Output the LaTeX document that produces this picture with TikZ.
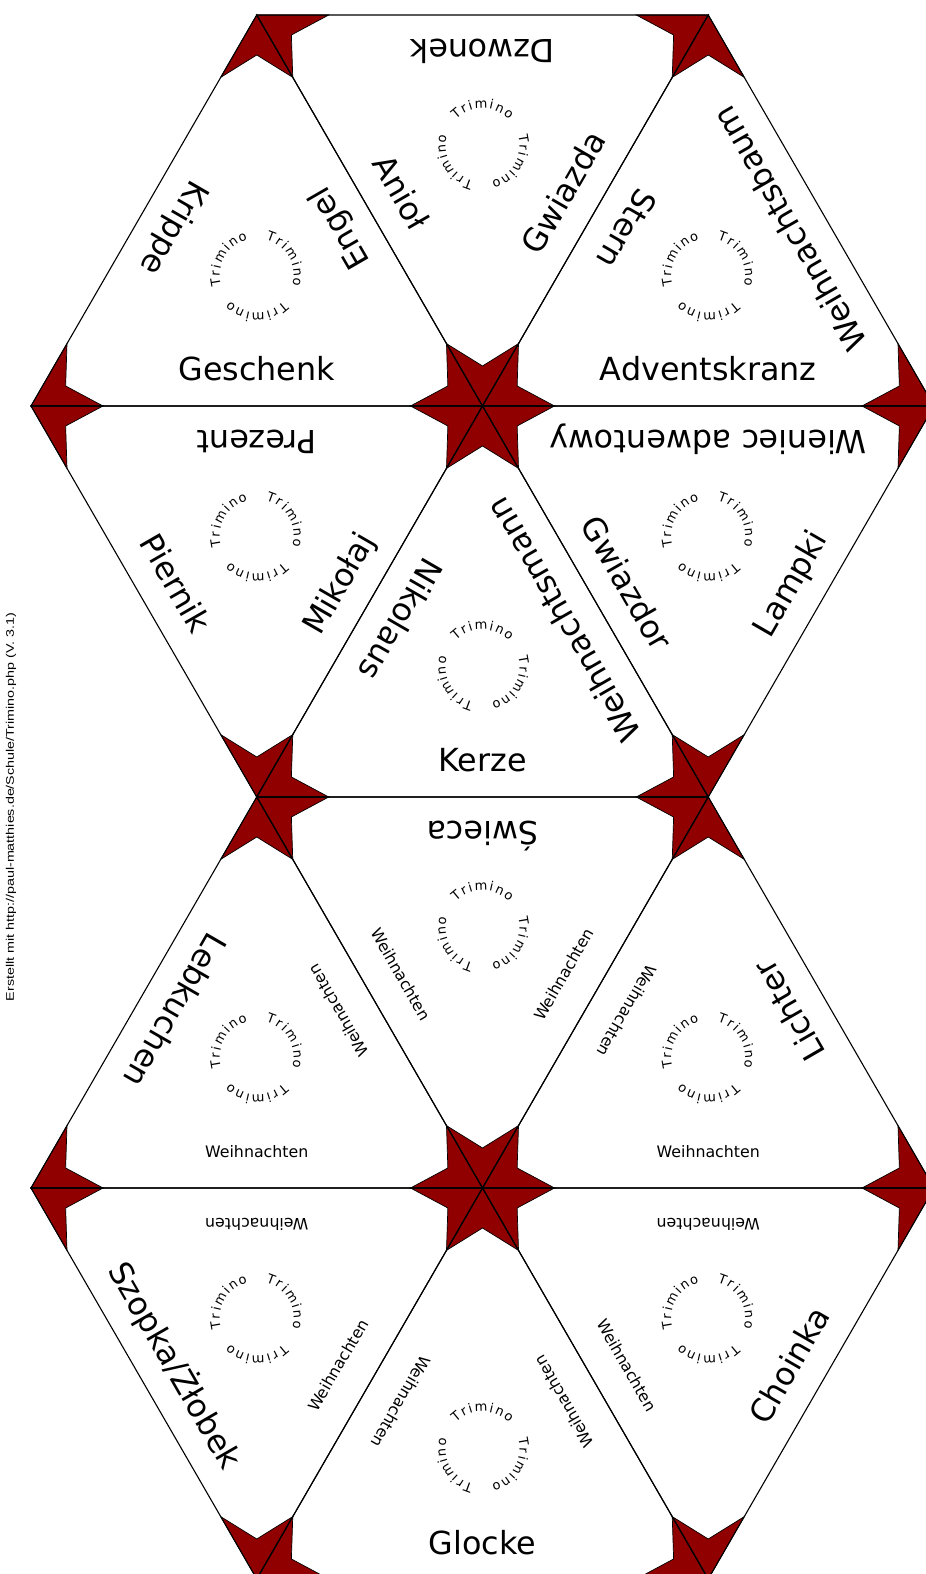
\documentclass[tikz,border=0pt]{standalone}
\usepackage{fontspec}
\setmainfont{DejaVu Sans}
\newfontfamily\creditfont{Liberation Sans}
\usetikzlibrary{calc}
\definecolor{starred}{RGB}{145,0,0}
\newcommand\dartat[3]{\filldraw[dart] (#1) -- ($(#1)!72pt!(#2)$) -- ($(#1)!40pt!(gg)$) -- ($(#1)!72pt!(#3)$) -- cycle;}
\newcommand\tridarts[3]{\coordinate (gg) at (barycentric cs:#1=1,#2=1,#3=1);\dartat{#1}{#2}{#3}\dartat{#2}{#3}{#1}\dartat{#3}{#1}{#2}}
\newcommand\lblbig[5]{\node[biglbl,rotate=#4] at ($(#1)!0.5!(#2)!25pt!(#3)$) {#5};}
\newcommand\lblsmall[4]{\node[smalllbl,rotate=#4] at ($(#1)!0.5!(#2)!30.5pt!(#3)$) {Weihnachten};}
\newcommand\trimcircle[2]{%
  \foreach \k in {0,1,2}{%
    \foreach \ch/\off in {T/-39.7,r/-26.9,i/-17.0,m/-2.0,i/12.9,n/24.8,o/39.6}{%
      \pgfmathsetmacro\ang{#2+120*\k-\off}%
      \node[letter,rotate=\ang-90] at ($(#1)+(\ang:37)$) {\ch};
    }%
  }%
}
\begin{document}
\begin{tikzpicture}[x=1pt,y=1pt,
  edge/.style={draw=black,line width=1.1pt},
  dart/.style={fill=starred,draw=black,line width=0.7pt,line join=miter},
  biglbl/.style={font=\fontsize{31.8}{36}\selectfont,anchor=base,inner sep=0pt},
  smalllbl/.style={font=\fontsize{15.8}{18}\selectfont,anchor=base,inner sep=0pt},
  letter/.style={font=\fontsize{13}{15}\selectfont,anchor=base,inner sep=0pt}]
\useasboundingbox (0,0) rectangle (926,1574);
\fill[white] (0,0) rectangle (926,1574);
\begin{scope}
\clip (0,0) rectangle (926,1574);
\coordinate (p01) at (256.75,1559);
\coordinate (p02) at (708.25,1559);
\coordinate (p10) at (31,1168);
\coordinate (p11) at (482.5,1168);
\coordinate (p12) at (934,1168);
\coordinate (p21) at (256.75,777);
\coordinate (p22) at (708.25,777);
\coordinate (p30) at (31,386);
\coordinate (p31) at (482.5,386);
\coordinate (p32) at (934,386);
\coordinate (p41) at (256.75,-5);
\coordinate (p42) at (708.25,-5);
\coordinate (g1) at (barycentric cs:p01=1,p10=1,p11=1);
\coordinate (g2) at (barycentric cs:p01=1,p02=1,p11=1);
\coordinate (g3) at (barycentric cs:p02=1,p11=1,p12=1);
\coordinate (g4) at (barycentric cs:p10=1,p11=1,p21=1);
\coordinate (g5) at (barycentric cs:p11=1,p21=1,p22=1);
\coordinate (g6) at (barycentric cs:p11=1,p12=1,p22=1);
\coordinate (g7) at (barycentric cs:p21=1,p30=1,p31=1);
\coordinate (g8) at (barycentric cs:p21=1,p22=1,p31=1);
\coordinate (g9) at (barycentric cs:p22=1,p31=1,p32=1);
\coordinate (g10) at (barycentric cs:p30=1,p31=1,p41=1);
\coordinate (g11) at (barycentric cs:p31=1,p41=1,p42=1);
\coordinate (g12) at (barycentric cs:p31=1,p32=1,p42=1);
% darts
\tridarts{p01}{p10}{p11}
\tridarts{p01}{p02}{p11}
\tridarts{p02}{p11}{p12}
\tridarts{p10}{p11}{p21}
\tridarts{p11}{p21}{p22}
\tridarts{p11}{p12}{p22}
\tridarts{p21}{p30}{p31}
\tridarts{p21}{p22}{p31}
\tridarts{p22}{p31}{p32}
\tridarts{p30}{p31}{p41}
\tridarts{p31}{p41}{p42}
\tridarts{p31}{p32}{p42}
% edges
\draw[edge] (p01)--(p10)--(p11)--cycle;
\draw[edge] (p01)--(p02)--(p11)--cycle;
\draw[edge] (p02)--(p11)--(p12)--cycle;
\draw[edge] (p10)--(p11)--(p21)--cycle;
\draw[edge] (p11)--(p21)--(p22)--cycle;
\draw[edge] (p11)--(p12)--(p22)--cycle;
\draw[edge] (p21)--(p30)--(p31)--cycle;
\draw[edge] (p21)--(p22)--(p31)--cycle;
\draw[edge] (p22)--(p31)--(p32)--cycle;
\draw[edge] (p30)--(p31)--(p41)--cycle;
\draw[edge] (p31)--(p41)--(p42)--cycle;
\draw[edge] (p31)--(p32)--(p42)--cycle;
\end{scope}
% labels
\lblbig{p01}{p10}{g1}{240}{Krippe}
\lblbig{p11}{p01}{g1}{120}{Engel}
\lblbig{p10}{p11}{g1}{0}{Geschenk}
\lblbig{p02}{p01}{g2}{180}{Dzwonek}
\lblbig{p01}{p11}{g2}{300}{Anioł}
\lblbig{p11}{p02}{g2}{60}{Gwiazda}
\lblbig{p02}{p11}{g3}{240}{Stern}
\lblbig{p12}{p02}{g3}{120}{Weihnachtsbaum}
\lblbig{p11}{p12}{g3}{0}{Adventskranz}
\lblbig{p11}{p10}{g4}{180}{Prezent}
\lblbig{p10}{p21}{g4}{300}{Piernik}
\lblbig{p21}{p11}{g4}{60}{Mikołaj}
\lblbig{p11}{p21}{g5}{240}{Nikolaus}
\lblbig{p22}{p11}{g5}{120}{Weihnachtsmann}
\lblbig{p21}{p22}{g5}{0}{Kerze}
\lblbig{p12}{p11}{g6}{180}{Wieniec adwentowy}
\lblbig{p11}{p22}{g6}{300}{Gwiazdor}
\lblbig{p22}{p12}{g6}{60}{Lampki}
\lblbig{p21}{p30}{g7}{240}{Lebkuchen}
\lblsmall{p31}{p21}{g7}{120}
\lblsmall{p30}{p31}{g7}{0}
\lblbig{p22}{p21}{g8}{180}{Świeca}
\lblsmall{p21}{p31}{g8}{300}
\lblsmall{p31}{p22}{g8}{60}
\lblsmall{p22}{p31}{g9}{240}
\lblbig{p32}{p22}{g9}{120}{Lichter}
\lblsmall{p31}{p32}{g9}{0}
\lblsmall{p31}{p30}{g10}{180}
\lblbig{p30}{p41}{g10}{300}{Szopka/Żłobek}
\lblsmall{p41}{p31}{g10}{60}
\lblsmall{p31}{p41}{g11}{240}
\lblsmall{p42}{p31}{g11}{120}
\lblbig{p41}{p42}{g11}{0}{Glocke}
\lblsmall{p32}{p31}{g12}{180}
\lblsmall{p31}{p42}{g12}{300}
\lblbig{p42}{p32}{g12}{60}{Choinka}
% trimino circles
\trimcircle{g1}{150}
\trimcircle{g2}{90}
\trimcircle{g3}{150}
\trimcircle{g4}{150}
\trimcircle{g5}{90}
\trimcircle{g6}{150}
\trimcircle{g7}{150}
\trimcircle{g8}{90}
\trimcircle{g9}{150}
\trimcircle{g10}{150}
\trimcircle{g11}{90}
\trimcircle{g12}{150}
% credit
\node[font=\creditfont\fontsize{11}{13}\selectfont,rotate=90,inner sep=0pt] (credit) at (11,767) {\scalebox{1.3}[1]{Erstellt mit http://paul-matthies.de/Schule/Trimino.php (V. 3.1)}};
\end{tikzpicture}
\end{document}
